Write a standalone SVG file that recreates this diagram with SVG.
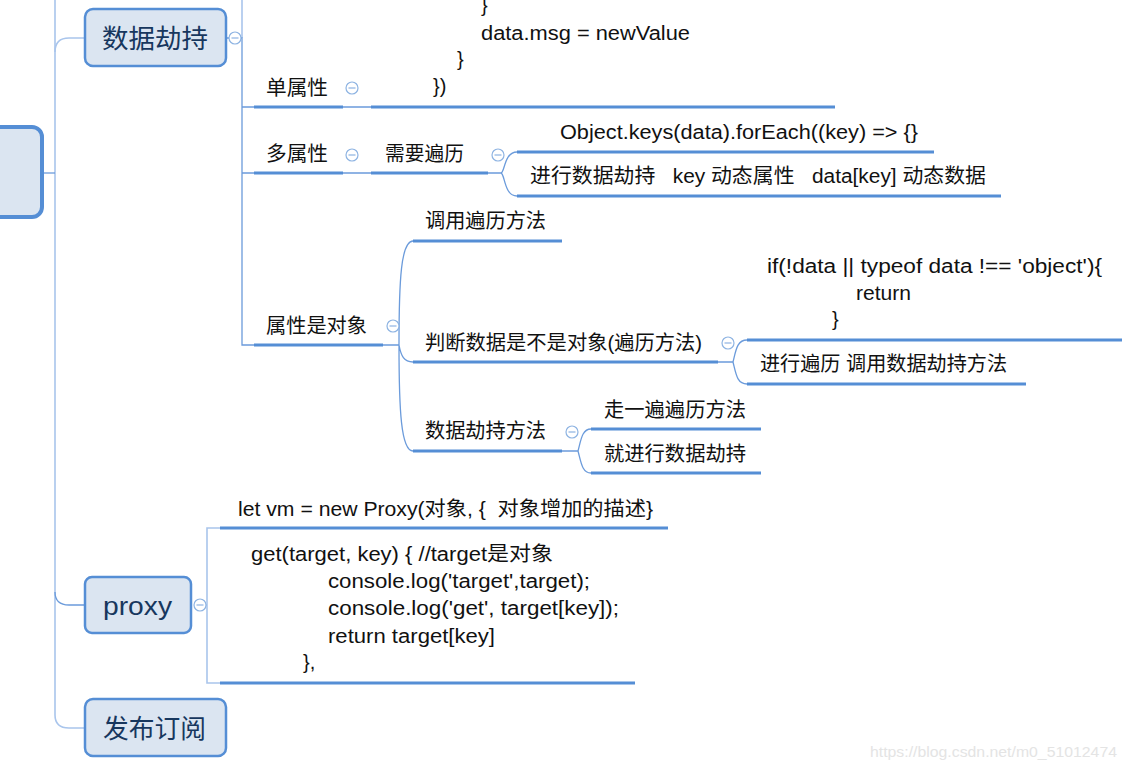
<svg xmlns="http://www.w3.org/2000/svg" width="1127" height="770" viewBox="0 0 1127 770">
<defs>
<style>
.t{font-family:"Liberation Sans","Noto Sans CJK SC",sans-serif;font-size:20px;fill:#111}
.n{font-family:"Liberation Sans","Noto Sans CJK SC",sans-serif;font-size:26px;fill:#17375e}
.box{fill:#dbe5f1;stroke:#558ed5;stroke-width:2.5}
.ul{stroke:#558ed5;stroke-width:3;fill:none}
.c{stroke:#6b9bdb;stroke-width:1.3;fill:none}
.cl{stroke:#a9c5ec;stroke-width:1.6;fill:none}
.wm{font-family:"Liberation Sans",sans-serif;font-size:15px;fill:#e4e4e4}
</style>
<g id="tg"><circle r="6" fill="#fff" stroke="#8db3e2" stroke-width="1.2"/><line x1="-3.5" x2="3.5" y1="0" y2="0" stroke="#8db3e2" stroke-width="1.2"/></g>
</defs>
<rect width="1127" height="770" fill="#fff"/>

<g id="connectors">
<path class="cl" d="M55 0 V715 Q55 728 69 728 H85"/>
<path class="cl" d="M55 52 Q55 38 69 38 H85"/>
<path class="c" d="M55 592 Q55 605 69 605 H85"/>
<path class="c" d="M43 173 H55"/>
<path class="cl" d="M242 0 V38"/>
<path class="c" d="M227 38 H229 M241 38 H242 V345 H254"/>
<path class="c" d="M242 107 H254 M343 107 H371"/>
<path class="c" d="M242 173 H254 M343 173 H371"/>
<path class="c" d="M488 173 H501 M501 173 C505 172 504 152 517 152 M501 173 C505 174 504 196 517 196"/>
<path class="c" d="M383 345 H399 M399 345 C399 280 401 241 413 241 M399 345 C401 356 404 362 413 362 M399 345 C399 410 401 451 413 451"/>
<path class="c" d="M718 362 H733 M733 362 C736 350 737 340 747 340 M733 362 C736 374 737 384 747 384"/>
<path class="c" d="M562 451 H578 M578 451 C581 440 582 429 591 429 M578 451 C581 462 582 473 591 473"/>
<path class="cl" d="M206 605 H207 M220 528 H207 V683 H220"/>
</g>

<g id="root"><rect x="-20" y="127" width="62" height="90" rx="10" fill="#dbe5f1" stroke="#558ed5" stroke-width="4"/></g>

<g id="n-sjjc">
<rect class="box" x="85" y="9" width="141" height="57" rx="8"/>
<text class="n" x="102" y="48" textLength="106" lengthAdjust="spacingAndGlyphs">数据劫持</text>
<use href="#tg" x="235" y="38"/>
</g>

<g id="n-dsx">
<line class="ul" x1="254" y1="107" x2="343" y2="107"/>
<text class="t" x="266" y="95" textLength="62" lengthAdjust="spacingAndGlyphs">单属性</text>
<use href="#tg" x="352" y="88"/>
</g>

<g id="n-code1">
<line class="ul" x1="371" y1="107" x2="835" y2="107"/>
<text class="t" x="481" y="12">}</text>
<text class="t" x="481" y="40" textLength="209" lengthAdjust="spacingAndGlyphs">data.msg = newValue</text>
<text class="t" x="457" y="66">}</text>
<text class="t" x="433" y="93">})</text>
</g>

<g id="n-duo">
<line class="ul" x1="254" y1="173" x2="343" y2="173"/>
<text class="t" x="266" y="161" textLength="62" lengthAdjust="spacingAndGlyphs">多属性</text>
<use href="#tg" x="352" y="155"/>
</g>

<g id="n-xybl">
<line class="ul" x1="371" y1="173" x2="488" y2="173"/>
<text class="t" x="385" y="161" textLength="79" lengthAdjust="spacingAndGlyphs">需要遍历</text>
<use href="#tg" x="498" y="155"/>
</g>

<g id="n-objkeys">
<line class="ul" x1="517" y1="152" x2="934" y2="152"/>
<text class="t" x="560" y="139" textLength="358" lengthAdjust="spacingAndGlyphs">Object.keys(data).forEach((key) =&gt; {}</text>
</g>

<g id="n-jxsj">
<line class="ul" x1="517" y1="196" x2="1001" y2="196"/>
<text class="t" x="530" y="183" xml:space="preserve" textLength="456" lengthAdjust="spacingAndGlyphs">进行数据劫持   key 动态属性   data[key] 动态数据</text>
</g>

<g id="n-sxsdx">
<line class="ul" x1="254" y1="345" x2="383" y2="345"/>
<text class="t" x="266" y="333" textLength="101" lengthAdjust="spacingAndGlyphs">属性是对象</text>
<use href="#tg" x="393" y="326"/>
</g>

<g id="n-dybl">
<line class="ul" x1="413" y1="241" x2="562" y2="241"/>
<text class="t" x="425" y="228" textLength="121" lengthAdjust="spacingAndGlyphs">调用遍历方法</text>
</g>

<g id="n-pd">
<line class="ul" x1="413" y1="362" x2="718" y2="362"/>
<text class="t" x="425" y="350" textLength="277" lengthAdjust="spacingAndGlyphs">判断数据是不是对象(遍历方法)</text>
<use href="#tg" x="728" y="343"/>
</g>

<g id="n-ifcode">
<line class="ul" x1="747" y1="340" x2="1122" y2="340"/>
<text class="t" x="767" y="273" textLength="335" lengthAdjust="spacingAndGlyphs">if(!data || typeof data !== 'object'){</text>
<text class="t" x="856" y="300" textLength="55" lengthAdjust="spacingAndGlyphs">return</text>
<text class="t" x="832" y="326">}</text>
</g>

<g id="n-jxbl">
<line class="ul" x1="747" y1="384" x2="1026" y2="384"/>
<text class="t" x="760" y="371" textLength="247" lengthAdjust="spacingAndGlyphs">进行遍历 调用数据劫持方法</text>
</g>

<g id="n-sjjcff">
<line class="ul" x1="413" y1="451" x2="562" y2="451"/>
<text class="t" x="425" y="438" textLength="121" lengthAdjust="spacingAndGlyphs">数据劫持方法</text>
<use href="#tg" x="572" y="432"/>
</g>

<g id="n-zyb">
<line class="ul" x1="591" y1="429" x2="761" y2="429"/>
<text class="t" x="604" y="417" textLength="142" lengthAdjust="spacingAndGlyphs">走一遍遍历方法</text>
</g>

<g id="n-jjx">
<line class="ul" x1="591" y1="473" x2="761" y2="473"/>
<text class="t" x="604" y="461" textLength="142" lengthAdjust="spacingAndGlyphs">就进行数据劫持</text>
</g>

<g id="n-proxy">
<rect class="box" x="85" y="577" width="106" height="56" rx="7"/>
<text class="n" x="103" y="615" textLength="69" lengthAdjust="spacingAndGlyphs">proxy</text>
<use href="#tg" x="200" y="605"/>
</g>

<g id="n-letvm">
<line class="ul" x1="220" y1="528" x2="668" y2="528"/>
<text class="t" x="238" y="516" xml:space="preserve" textLength="415" lengthAdjust="spacingAndGlyphs">let vm = new Proxy(对象, {  对象增加的描述}</text>
</g>

<g id="n-get">
<line class="ul" x1="220" y1="683" x2="635" y2="683"/>
<text class="t" x="251" y="561" textLength="302" lengthAdjust="spacingAndGlyphs">get(target, key) { //target是对象</text>
<text class="t" x="328" y="588" textLength="262" lengthAdjust="spacingAndGlyphs">console.log('target',target);</text>
<text class="t" x="328" y="615" textLength="291" lengthAdjust="spacingAndGlyphs">console.log('get', target[key]);</text>
<text class="t" x="328" y="643" textLength="167" lengthAdjust="spacingAndGlyphs">return target[key]</text>
<text class="t" x="303" y="669">},</text>
</g>

<g id="n-fbdy">
<rect class="box" x="85" y="699" width="141" height="57" rx="8"/>
<text class="n" x="103" y="738" textLength="103" lengthAdjust="spacingAndGlyphs">发布订阅</text>
</g>

<text class="wm" x="870" y="757" textLength="247" lengthAdjust="spacingAndGlyphs">https://blog.csdn.net/m0_51012474</text>
</svg>
